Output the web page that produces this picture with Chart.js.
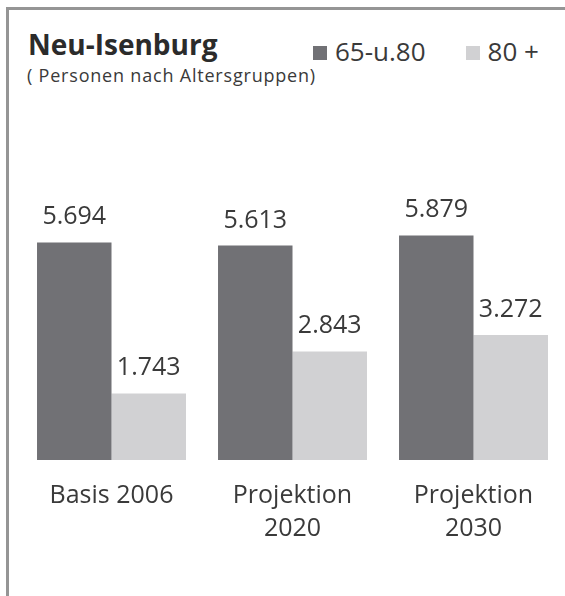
<!DOCTYPE html>
<html lang="de">
<head>
<meta charset="UTF-8">
<title>Neu-Isenburg</title>
<style>
  body { margin: 0; background: #fff; font-family: "Open Sans", sans-serif; }
  .page { position: relative; width: 565px; height: 596px; overflow: hidden; }
  .frame {
    position: absolute; left: 6px; top: 7px; width: 556px; height: 586px;
    border-top: 3px solid #959595; border-left: 3px solid #959595;
  }
  .title {
    position: absolute; left: 28px; top: 30px;
    font-size: 28px; font-weight: 700; line-height: 1; color: #2b2b2b;
  }
  .subtitle {
    position: absolute; left: 27px; top: 66px;
    font-size: 18px; line-height: 1; color: #3a3a3a; letter-spacing: 0.8px;
  }
  .legend {
    position: absolute; left: 313px; top: 38px;
    display: flex; gap: 40px; font-size: 26px; line-height: 1; color: #3a3a3a;
  }
  .legend-item { display: flex; align-items: center; }
  .legend-box { width: 14px; height: 14px; margin-right: 8px; margin-top: 3px; }
  canvas { position: absolute; left: 0; top: 0; }
</style>
</head>
<body>
<div class="page">
  <div class="frame"></div>
  <div class="title">Neu-Isenburg</div>
  <div class="subtitle">( Personen nach Altersgruppen)</div>
  <div class="legend" id="legend"></div>
  <canvas id="chart" width="565" height="596"></canvas>
</div>

<script src="https://cdn.jsdelivr.net/npm/chart.js"></script>
<script>
  // data
  const categories = [['Basis 2006'], ['Projektion', '2020'], ['Projektion', '2030']];
  const seriesNames = ['65-u.80', '80 +'];
  const age65to80 = [5694, 5613, 5879];
  const age80plus = [1743, 2843, 3272];
  const colors = ['#717175', '#d1d1d3'];

  function formatDE(n) {
    return String(n).replace(/\B(?=(\d{3})+(?!\d))/g, '.');
  }

  // legend in html
  const legend = document.getElementById('legend');
  seriesNames.forEach((name, i) => {
    const item = document.createElement('div');
    item.className = 'legend-item';
    const box = document.createElement('span');
    box.className = 'legend-box';
    box.style.background = colors[i];
    const txt = document.createElement('span');
    txt.textContent = name;
    item.appendChild(box);
    item.appendChild(txt);
    legend.appendChild(item);
  });

  // numbers above bars
  const valueLabels = {
    id: 'valueLabels',
    afterDatasetsDraw(chart) {
      const ctx = chart.ctx;
      ctx.save();
      ctx.font = '25px "Open Sans"';
      ctx.fillStyle = '#3a3a3a';
      ctx.textAlign = 'center';
      ctx.textBaseline = 'alphabetic';
      chart.data.datasets.forEach((ds, i) => {
        chart.getDatasetMeta(i).data.forEach((bar, j) => {
          ctx.fillText(formatDE(ds.data[j]), bar.x, bar.y - 18);
        });
      });
      ctx.restore();
    }
  };

  new Chart(document.getElementById('chart'), {
    type: 'bar',
    data: {
      labels: categories,
      datasets: [
        { label: seriesNames[0], data: age65to80, backgroundColor: colors[0] },
        { label: seriesNames[1], data: age80plus, backgroundColor: colors[1] }
      ]
    },
    options: {
      responsive: false,
      animation: false,
      layout: { padding: { top: 78, left: 21, right: 1, bottom: 40 } },
      datasets: { bar: { categoryPercentage: 0.823, barPercentage: 1.0 } },
      plugins: {
        legend: { display: false },
        tooltip: { enabled: false }
      },
      scales: {
        x: {
          grid: { display: false },
          border: { display: false },
          ticks: {
            maxRotation: 0,
            padding: 11,
            color: '#3a3a3a',
            font: { family: 'Open Sans', size: 25, lineHeight: 1.32 }
          }
        },
        y: { display: false, min: 0, max: 10000 }
      }
    },
    plugins: [valueLabels]
  });
</script>
</body>
</html>
